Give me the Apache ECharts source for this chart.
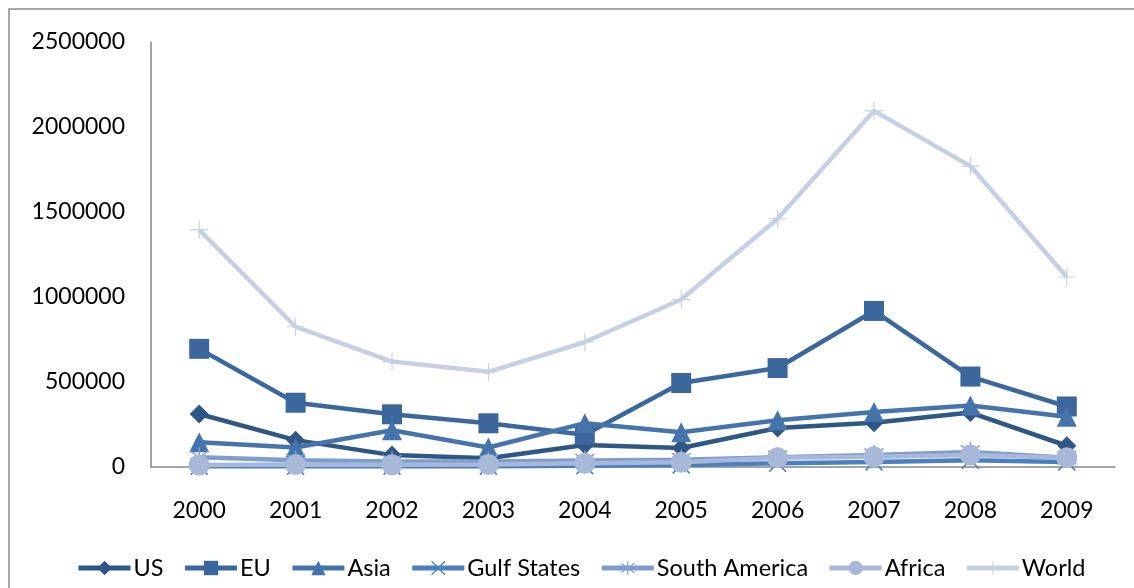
<!DOCTYPE html>
<html>
<head>
<meta charset="utf-8">
<script src="https://cdn.jsdelivr.net/npm/echarts@6/dist/echarts.min.js"></script>
<style>html,body{margin:0;padding:0;background:#fff;}#c{width:1134px;height:588px;}</style>
</head>
<body>
<div id="c"></div>
<script>
const years = ['2000','2001','2002','2003','2004','2005','2006','2007','2008','2009'];
const seriesNames = ['US','EU','Asia','Gulf States','South America','Africa','World'];
const us = [312000, 158000, 70000, 52000, 130000, 112000, 229000, 260000, 320000, 125000];
const eu = [695000, 378000, 310000, 257000, 190000, 494000, 582000, 918000, 532000, 356000];
const asia = [145000, 115000, 216000, 115000, 258000, 205000, 275000, 324000, 362000, 295000];
const gulfStates = [5000, 5000, 5000, 5000, 8000, 12000, 22000, 30000, 40000, 30000];
const southAmerica = [58000, 40000, 33000, 33000, 38000, 42000, 58000, 70000, 88000, 55000];
const africa = [12000, 14000, 13000, 15000, 22000, 28000, 55000, 60000, 70000, 55000];
const world = [1395000, 825000, 620000, 560000, 735000, 985000, 1460000, 2095000, 1770000, 1118000];
const yTicks = [0, 500000, 1000000, 1500000, 2000000, 2500000];

const values = [us, eu, asia, gulfStates, southAmerica, africa, world];
const colors = ['#2f5785', '#3c679c', '#4574ad', '#4a7fc0', '#7f9dcc', '#a7b8d8', '#c5d0e4'];
const X = 'path://M2,3 L3,2 L10,9 L17,2 L18,3 L11,10 L18,17 L17,18 L10,11 L3,18 L2,17 L9,10 Z';
const STAR = 'path://M2,4 L3,3 L10,9.3 L17,3 L18,4 L10.8,10 L18,16 L17,17 L10,10.7 L3,17 L2,16 L9.2,10 Z M9.4,0 L10.6,0 L10.6,20 L9.4,20 Z';
const PLUS = 'path://M9.4,0 L10.6,0 L10.6,9.4 L20,9.4 L20,10.6 L10.6,10.6 L10.6,20 L9.4,20 L9.4,10.6 L0,10.6 L0,9.4 L9.4,9.4 Z';
const symbols = ['diamond', 'rect', 'triangle', X, STAR, 'circle', PLUS];
const sizes = [19, 20, 20, 18, 20, 21, 18];

const font = 'Lato';
const chart = echarts.init(document.getElementById('c'), null, {renderer: 'canvas'});
chart.setOption({
  animation: false,
  backgroundColor: '#fff',
  graphic: [{
    type: 'rect', shape: {x: 9, y: 9, width: 1300, height: 800},
    style: {fill: 'none', stroke: '#8c8c8c', lineWidth: 1.5}, silent: true, z: -1
  }],
  grid: {left: 151, right: 19, top: 42, bottom: 121, containLabel: false},
  legend: {
    data: seriesNames, top: 551, left: 71, itemWidth: 52, itemHeight: 18, itemGap: 19,
    lineStyle: {width: 5},
    textStyle: {fontFamily: font, fontSize: 23.5, color: '#000', padding: [0, 0, 0, -2]}
  },
  xAxis: {
    type: 'category', data: years, boundaryGap: true,
    axisLine: {lineStyle: {color: '#868686', width: 1.5}},
    axisTick: {show: false},
    axisLabel: {fontFamily: font, fontSize: 23, color: '#000', margin: 32}
  },
  yAxis: {
    type: 'value', min: yTicks[0], max: yTicks[yTicks.length - 1], interval: 500000,
    axisLine: {show: true, lineStyle: {color: '#868686', width: 1.5}},
    axisTick: {show: false}, splitLine: {show: false},
    axisLabel: {fontFamily: font, fontSize: 23, color: '#000', margin: 26, formatter: v => String(v)}
  },
  series: seriesNames.map((n, i) => ({
    name: n, type: 'line', data: values[i],
    symbol: symbols[i], symbolSize: sizes[i], showAllSymbol: true,
    lineStyle: {color: colors[i], width: 4.5},
    itemStyle: {color: colors[i], borderWidth: 0},
    z: 2 + i
  }))
});
</script>
</body>
</html>
